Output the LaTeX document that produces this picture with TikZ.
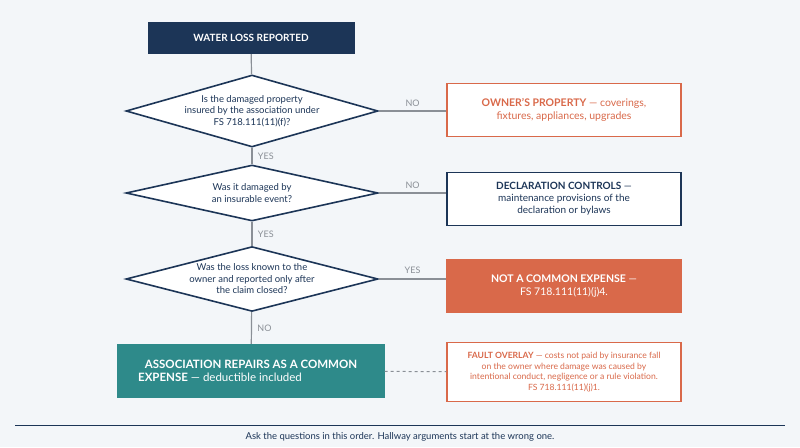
\documentclass[tikz,border=0pt]{standalone}
\usepackage{fontspec}
\setmainfont{Lato}
\usetikzlibrary{shapes.geometric,positioning}
\definecolor{navy}{HTML}{1C3557}
\definecolor{rust}{HTML}{D9694A}
\definecolor{teal2}{HTML}{2E8A8A}
\definecolor{bgc}{HTML}{F3F6F9}
\definecolor{linec}{HTML}{8A8F96}
\tikzset{
  box/.style={draw, line width=1.3pt, minimum width=234pt, minimum height=53pt, align=center, font=\fontsize{10.5}{12.5}\selectfont, inner sep=2pt},
  ask/.style={diamond, draw=navy, line width=1.6pt, fill=white, aspect=3.6, minimum width=252pt, minimum height=70pt, align=center, font=\fontsize{9.5}{11.5}\selectfont, text=navy, inner sep=0pt},
  flow/.style={linec, line width=1.2pt},
  tag/.style={font=\fontsize{9}{10}\selectfont, text=linec}
}
\begin{document}
\begin{tikzpicture}[x=1pt,y=-1pt]
\fill[bgc] (0,0) rectangle (800,447);
\useasboundingbox (0,0) rectangle (800,447);

% start
\node[fill=navy, text=white, minimum width=207pt, minimum height=32pt, font=\fontsize{10}{12}\selectfont\bfseries] (start) at (251,38) {WATER LOSS REPORTED};

% questions
\node[ask, minimum height=72pt] (q1) at (252,111) {Is the damaged property\\insured by the association under\\FS 718.111(11)(f)?};
\node[ask, minimum height=56pt] (q2) at (252,193) {Was it damaged by\\an insurable event?};
\node[ask, minimum height=62pt] (q3) at (252,279) {Was the loss known to the\\owner and reported only after\\the claim closed?};

% outcomes
\node[box, draw=rust, fill=white, text=rust] (owner) at (564,110) {\textbf{OWNER’S PROPERTY} — coverings,\\fixtures, appliances, upgrades};
\node[box, draw=navy, fill=white, text=navy, font=\fontsize{10}{12}\selectfont] (decl) at (564,199) {\textbf{DECLARATION CONTROLS} —\\maintenance provisions of the\\declaration or bylaws};
\node[box, draw=rust, fill=rust, text=white] (notce) at (564,286) {\textbf{NOT A COMMON EXPENSE} —\\FS 718.111(11)(j)4.};
\node[box, draw=teal2, fill=teal2, text=white, minimum width=266pt, font=\fontsize{11.5}{13.5}\selectfont] (assoc) at (251,371) {\textbf{ASSOCIATION REPAIRS AS A COMMON}\\\textbf{EXPENSE} — deductible included\hspace*{62pt}};
\node[box, draw=rust, fill=white, text=rust, minimum height=59pt, font=\fontsize{8.6}{10.5}\selectfont] (fault) at (564,372) {\textbf{FAULT OVERLAY} — costs not paid by insurance fall\\on the owner where damage was caused by\\intentional conduct, negligence or a rule violation.\\FS 718.111(11)(j)1.};

% connectors
\draw[flow] (start) -- (q1);
\draw[flow] (q1) -- node[tag, right=2pt] {YES} (q2);
\draw[flow] (q2) -- node[tag, right=2pt] {YES} (q3);
\draw[flow] (q3) -- node[tag, right=2pt] {NO} (assoc);
\draw[flow] (q1.east) -- node[tag, above=1pt] {NO} (owner.west |- q1.east);
\draw[flow] (q2.east) -- node[tag, above=1pt] {NO} (decl.west |- q2.east);
\draw[flow] (q3.east) -- node[tag, above=1pt] {YES} (notce.west |- q3.east);
\draw[flow, dashed, line width=1pt] (assoc) -- (fault);

% footer
\draw[navy, line width=0.6pt] (15,425) -- (785,425);
\node[font=\fontsize{9.5}{11}\selectfont, text=navy] (note) at (400,437) {Ask the questions in this order. Hallway arguments start at the wrong one.};
\end{tikzpicture}
\end{document}
